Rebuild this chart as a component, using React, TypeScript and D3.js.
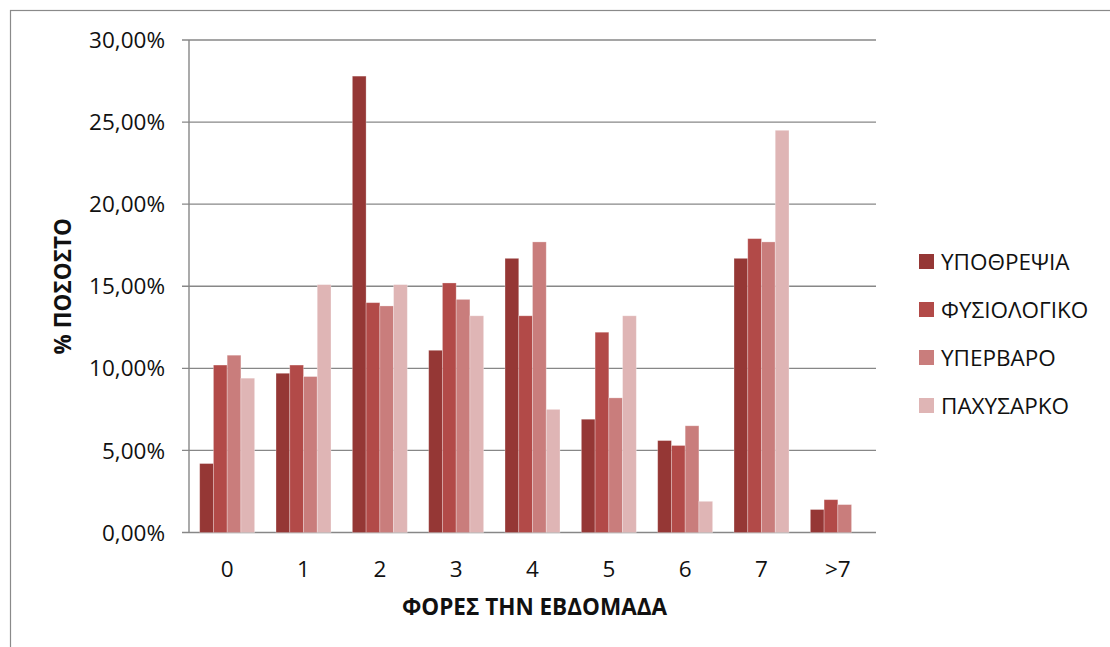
import React from "react";
import * as d3 from "d3";

// Weekly frequency categories and the four weight groups
const categories = ["0", "1", "2", "3", "4", "5", "6", "7", ">7"];
const seriesNames = ["ΥΠΟΘΡΕΨΙΑ", "ΦΥΣΙΟΛΟΓΙΚΟ", "ΥΠΕΡΒΑΡΟ", "ΠΑΧΥΣΑΡΚΟ"];
const ypothrepsia = [4.2, 9.7, 27.8, 11.1, 16.7, 6.9, 5.6, 16.7, 1.4];
const fysiologiko = [10.2, 10.2, 14.0, 15.2, 13.2, 12.2, 5.3, 17.9, 2.0];
const ypervaro = [10.8, 9.5, 13.8, 14.2, 17.7, 8.2, 6.5, 17.7, 1.7];
const paxysarko = [9.4, 15.1, 15.1, 13.2, 7.5, 13.2, 1.9, 24.5, 0];
const yTicks = [0, 5, 10, 15, 20, 25, 30];
const colors = ["#953735", "#B24A48", "#C97D7C", "#DFB5B5"];

const W = 1110;
const H = 647;
const plot = { left: 189, right: 876, top: 40, bottom: 532.5 };
const FONT = "'Open Sans', 'Noto Sans', sans-serif";
const FS = 22.5;

export default function App() {
  const series = [ypothrepsia, fysiologiko, ypervaro, paxysarko];
  const x = d3
    .scaleBand<string>()
    .domain(categories)
    .range([plot.left, plot.right])
    .padding(0);
  const step = x.bandwidth();
  const inner = d3
    .scaleBand<number>()
    .domain(d3.range(series.length))
    .range([step * 0.14, step * 0.86])
    .padding(0);
  const y = d3.scaleLinear().domain([0, 30]).range([plot.bottom, plot.top]);
  const fmt = (v: number) => v.toFixed(2).replace(".", ",") + "%";
  const gridColor = "#878787";

  return (
    <svg
      width={W}
      height={H}
      style={{ position: "absolute", left: 0, top: 0, background: "#fff" }}
      fontFamily={FONT}
    >
      <rect x={0} y={0} width={W} height={H} fill="#fff" />
      <rect
        x={10.5}
        y={10.5}
        width={W + 20}
        height={H + 20}
        fill="none"
        stroke="#8a8a8a"
        strokeWidth={1.2}
      />
      {/* horizontal gridlines and y ticks */}
      {yTicks.map((t) => (
        <g key={t}>
          <line
            x1={plot.left - 7}
            x2={plot.right}
            y1={y(t)}
            y2={y(t)}
            stroke={gridColor}
            strokeWidth={1.4}
          />
          <text
            x={165}
            y={y(t)}
            dy="0.36em"
            textAnchor="end"
            fontSize={FS}
            fill="#111"
          >
            {fmt(t)}
          </text>
        </g>
      ))}
      <line
        x1={plot.left}
        x2={plot.left}
        y1={plot.top}
        y2={plot.bottom}
        stroke={gridColor}
        strokeWidth={1.4}
      />
      {/* bars */}
      {series.map((vals, si) =>
        vals.map((v, ci) =>
          v > 0 ? (
            <rect
              key={`${si}-${ci}`}
              x={(x(categories[ci]) as number) + (inner(si) as number)}
              y={y(v)}
              width={inner.bandwidth()}
              height={y(0) - y(v)}
              fill={colors[si]}
              stroke="rgba(255,255,255,0.35)"
              strokeWidth={0.8}
            />
          ) : null
        )
      )}
      {/* category labels */}
      {categories.map((c) => (
        <text
          key={c}
          x={(x(c) as number) + step / 2}
          y={577}
          textAnchor="middle"
          fontSize={FS}
          fill="#111"
        >
          {c}
        </text>
      ))}
      <text
        x={(plot.left + plot.right) / 2 + 2}
        y={615}
        textAnchor="middle"
        fontSize={FS}
        fontWeight="bold"
        fill="#111"
      >
        ΦΟΡΕΣ ΤΗΝ ΕΒΔΟΜΑΔΑ
      </text>
      <text
        transform={`translate(71, ${(plot.top + plot.bottom) / 2}) rotate(-90)`}
        textAnchor="middle"
        fontSize={FS}
        fontWeight="bold"
        fill="#111"
      >
        % ΠΟΣΟΣΤΟ
      </text>
      {/* legend */}
      {seriesNames.map((n, i) => {
        const cy = 261.5 + i * 48;
        return (
          <g key={n}>
            <rect x={919} y={cy - 7.5} width={15} height={15} fill={colors[i]} />
            <text x={941} y={cy} dy="0.36em" fontSize={FS} fill="#111">
              {n}
            </text>
          </g>
        );
      })}
    </svg>
  );
}
